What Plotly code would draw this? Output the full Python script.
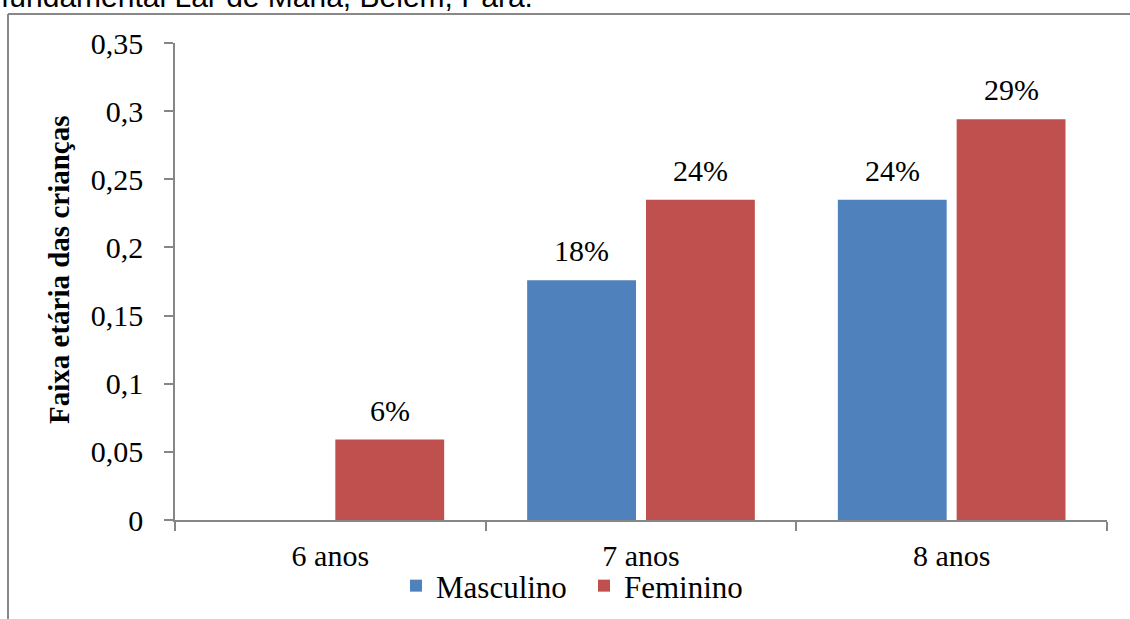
import plotly.graph_objects as go

categories = ["6 anos", "7 anos", "8 anos"]
masculino = [0, 0.176, 0.235]
feminino = [0.059, 0.235, 0.294]
masc_labels = ["", "18%", "24%"]
fem_labels = ["6%", "24%", "29%"]
y_tickvals = [0, 0.05, 0.1, 0.15, 0.2, 0.25, 0.3, 0.35]
y_ticktext = ["0", "0,05", "0,1", "0,15", "0,2", "0,25", "0,3", "0,35"]

W, H = 1130, 619
L, R, T, B = 175, 1107, 43, 520

def px(x):
    return (x - L) / (R - L)

def py(y):
    return (B - y) / (B - T)

serif = "Liberation Serif, Times New Roman, serif"
FS = 30
BLUE = "#4F81BD"
RED = "#C0504D"
BARGAP = 0.235
GROUPGAP = 0.084

fig = go.Figure()
fig.add_trace(go.Bar(name="Masculino", x=categories, y=masculino, marker_color=BLUE,
                     marker_line_width=0))
fig.add_trace(go.Bar(name="Feminino", x=categories, y=feminino, marker_color=RED,
                     marker_line_width=0))

# data labels as annotations at data coordinates
cat_px = (R - L) / len(categories)
slot = cat_px * (1 - BARGAP) / 2
annotations = []
for vals, labs, sign in ((masculino, masc_labels, -1), (feminino, fem_labels, 1)):
    for c, v, t in zip(categories, vals, labs):
        if t:
            annotations.append(dict(x=c, y=v, xref="x", yref="y", text=t, showarrow=False,
                                    xanchor="center", yanchor="bottom",
                                    xshift=sign * slot / 2, yshift=11,
                                    font=dict(family=serif, size=FS, color="black")))

annotations.append(dict(text="<b>Faixa etária das crianças</b>", xref="paper", yref="paper",
                        x=px(59), y=py(270), xanchor="center", yanchor="middle",
                        textangle=-90, showarrow=False,
                        font=dict(family=serif, size=29, color="black")))
annotations.append(dict(text="fundamental Lar de Maria, Belém, Pará.", xref="paper", yref="paper",
                        x=px(-1), y=py(15), xanchor="left", yanchor="bottom", showarrow=False,
                        font=dict(family="Liberation Sans, Arial, sans-serif", size=30,
                                  color="black")))

fig.update_layout(
    width=W, height=H,
    margin=dict(l=L, r=W - R, t=T, b=H - B, pad=0, autoexpand=False),
    paper_bgcolor="white", plot_bgcolor="white",
    barmode="group", bargap=BARGAP, bargroupgap=GROUPGAP,
    font=dict(family=serif, size=FS, color="black"),
    showlegend=True,
    legend=dict(orientation="h", x=px(396), xanchor="left", y=py(586), yanchor="middle",
                font=dict(family=serif, size=31, color="black"), itemwidth=30,
                entrywidth=143, entrywidthmode="pixels",
                traceorder="normal", bgcolor="rgba(0,0,0,0)"),
    xaxis=dict(showline=True, linecolor="#868686", linewidth=1.5, ticks="outside",
               tickson="boundaries", ticklen=9, tickcolor="#868686", tickwidth=1.5,
               tickfont=dict(family=serif, size=FS, color="black"), showgrid=False,
               ticklabelstandoff=8, automargin=False),
    yaxis=dict(range=[0, 0.35], showline=True, linecolor="#868686", linewidth=1.5,
               ticks="outside", ticklen=9, tickcolor="#868686", tickwidth=1.5,
               tickvals=y_tickvals, ticktext=y_ticktext, showgrid=False, zeroline=False,
               tickfont=dict(family=serif, size=FS, color="black"),
               ticklabelstandoff=15, automargin=False),
    shapes=[
        dict(type="line", xref="paper", yref="paper", x0=px(8), x1=px(8), y0=py(14), y1=py(640),
             line=dict(color="#888888", width=2)),
        dict(type="line", xref="paper", yref="paper", x0=px(8), x1=px(1140), y0=py(14), y1=py(14),
             line=dict(color="#888888", width=2)),
    ],
    annotations=annotations,
)

fig.write_html("out.html", config={"displayModeBar": False},
               post_script="document.body.style.margin='0';")
